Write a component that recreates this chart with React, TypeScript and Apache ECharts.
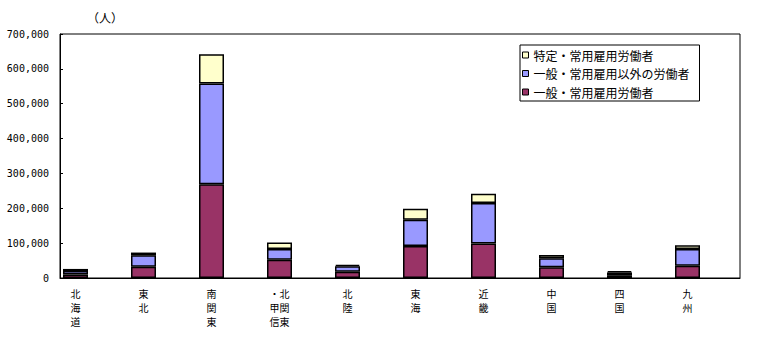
import React, { useEffect, useRef } from "react";
import * as echarts from "echarts";

const categories = ["北\n海\n道", "東\n北", "南\n関\n東", "・北\n甲関\n信東", "北\n陸", "東\n海", "近\n畿", "中\n国", "四\n国", "九\n州"];
const seriesNames = ["一般・常用雇用労働者", "一般・常用雇用以外の労働者", "特定・常用雇用労働者"];
const generalRegular = [10000, 32000, 269000, 52000, 18000, 92000, 99000, 31000, 8000, 35000];
const generalOther = [10000, 33000, 289000, 31000, 16000, 75000, 116000, 26000, 8000, 48000];
const specifiedRegular = [6000, 8000, 84000, 19000, 4000, 32000, 27000, 9000, 4000, 11000];
const colors = ["#993366", "#9999FF", "#FFFFCC"];
const unitLabel = "（人）";

export default function App() {
  const ref = useRef<HTMLDivElement>(null);
  useEffect(() => {
    if (!ref.current) return;
    const chart = echarts.init(ref.current, null, { renderer: "svg" });
    const values = [generalRegular, generalOther, specifiedRegular];
    const barSeries: any[] = values.map((d, i) => ({
      name: seriesNames[i],
      type: "bar",
      stack: "a",
      data: d,
      barWidth: 25,
      barGap: "48%",
      itemStyle: { color: colors[i], borderColor: "#000", borderWidth: 1.5 },
    }));
    barSeries.push({
      name: "_spacer",
      type: "bar",
      stack: "b",
      data: categories.map(() => null),
      barWidth: 25,
      barGap: "48%",
      itemStyle: { color: "transparent" },
    });
    chart.setOption({
      animation: false,
      backgroundColor: "#fff",
      title: {
        text: unitLabel,
        left: 87,
        top: 11,
        padding: 0,
        textStyle: { fontFamily: "Noto Sans CJK JP", fontSize: 12, fontWeight: "normal", color: "#000" },
      },
      legend: {
        data: [seriesNames[2], seriesNames[1], seriesNames[0]],
        orient: "vertical",
        left: 520,
        top: 45,
        padding: [4, 10, 3, 2],
        itemGap: 6.5,
        itemWidth: 6,
        itemHeight: 6,
        icon: "rect",
        borderColor: "#000",
        borderWidth: 1,
        backgroundColor: "#fff",
        itemStyle: { borderColor: "#000", borderWidth: 1 },
        textStyle: { fontFamily: "Noto Sans CJK JP", fontSize: 12, color: "#000" },
      },
      grid: {
        left: 60,
        right: 20,
        top: 34,
        bottom: 78,
        show: true,
        borderColor: "#000",
        borderWidth: 1,
      },
      xAxis: {
        type: "category",
        data: categories,
        axisLine: { lineStyle: { color: "#000", width: 1 } },
        axisTick: { alignWithLabel: true, inside: true, length: 4, lineStyle: { color: "#000" } },
        axisLabel: {
          interval: 0,
          margin: 8,
          fontFamily: "Noto Sans CJK JP",
          fontSize: 10,
          lineHeight: 14,
          color: "#000",
          padding: [0, 37, 0, 0],
        },
      },
      yAxis: {
        type: "value",
        min: 0,
        max: 700000,
        interval: 100000,
        splitLine: { show: false },
        axisLine: { show: true, lineStyle: { color: "#000", width: 1 } },
        axisTick: { show: true, inside: true, length: 3, lineStyle: { color: "#000" } },
        axisLabel: {
          margin: 11,
          fontFamily: "DejaVu Sans Mono",
          fontSize: 10,
          color: "#000",
          formatter: (v: number) => v.toLocaleString("en-US"),
        },
      },
      series: barSeries,
    });
    return () => chart.dispose();
  }, []);
  return <div ref={ref} style={{ position: "fixed", left: 0, top: 0, width: 760, height: 356 }} />;
}
